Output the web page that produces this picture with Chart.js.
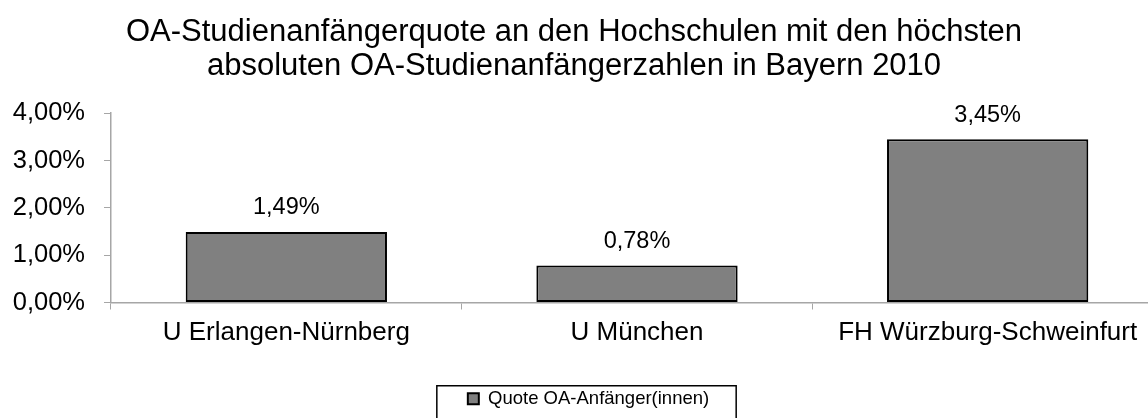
<!DOCTYPE html>
<html>
<head>
<meta charset="utf-8">
<script src="https://cdn.jsdelivr.net/npm/chart.js@4.4.1/dist/chart.umd.min.js"></script>
<style>
  html, body { margin: 0; padding: 0; background: #fff; overflow: hidden; width: 1148px; height: 418px; }
  /* the last category runs a little past the right edge in the original */
  #wrap { width: 1163px; height: 418px; }
</style>
</head>
<body>
<div id="wrap"><canvas id="quoteChart"></canvas></div>
<script>
const categories = ['U Erlangen-Nürnberg', 'U München', 'FH Würzburg-Schweinfurt'];
const quoteValues = [1.49, 0.78, 3.45];
const seriesName = 'Quote OA-Anfänger(innen)';
const yTicks = [0, 1, 2, 3, 4];
const titleLines = [
    'OA-Studienanfängerquote an den Hochschulen mit den höchsten',
    'absoluten OA-Studienanfängerzahlen in Bayern 2010'
];

const fontFamily = '"Liberation Sans", Arial, sans-serif';
const axisGray = '#a6a6a6';

function pct(v) {
    return v.toFixed(2).replace('.', ',') + '%';
}

// title centred on the visible page, legend nudged a bit right as in the original
const placeBlocks = {
    id: 'placeBlocks',
    afterLayout(chart) {
        const cut = chart.width - document.body.clientWidth;
        if (cut > 0) chart.titleBlock.right -= cut;
        chart.legend.left += 7;
        chart.legend.right += 7;
    }
};

// value labels above the bars
const barValues = {
    id: 'barValues',
    afterDatasetsDraw(chart) {
        const ctx = chart.ctx;
        const meta = chart.getDatasetMeta(0);
        ctx.save();
        ctx.font = '23.5px ' + fontFamily;
        ctx.fillStyle = '#000';
        ctx.textAlign = 'center';
        ctx.textBaseline = 'middle';
        meta.data.forEach((bar, i) => {
            ctx.fillText(pct(chart.data.datasets[0].data[i]), bar.x, bar.y - 24);
        });
        ctx.restore();
    }
};

// framed legend like the original
const legendFrame = {
    id: 'legendFrame',
    afterDraw(chart) {
        const box = chart.legend.legendHitBoxes[0];
        if (!box) return;
        const ctx = chart.ctx;
        ctx.save();
        ctx.strokeStyle = '#000';
        ctx.lineWidth = 1.5;
        ctx.strokeRect(box.left - 31, box.top + box.height / 2 - 13, box.width + 58, 60);
        ctx.restore();
    }
};

new Chart(document.getElementById('quoteChart'), {
    type: 'bar',
    data: {
        labels: categories,
        datasets: [{
            label: seriesName,
            data: quoteValues,
            backgroundColor: '#808080',
            borderColor: '#000',
            borderWidth: 2,
            borderSkipped: false,
            barPercentage: 0.574,
            categoryPercentage: 1
        }]
    },
    options: {
        responsive: true,
        maintainAspectRatio: false,
        animation: false,
        layout: { padding: 0 },
        plugins: {
            title: {
                display: true,
                text: titleLines,
                color: '#000',
                font: { family: fontFamily, size: 31, weight: 'normal', lineHeight: 1.1 },
                padding: { top: 15, bottom: 30 }
            },
            legend: {
                position: 'bottom',
                labels: {
                    color: '#000',
                    font: { family: fontFamily, size: 18.5 },
                    boxWidth: 11,
                    boxHeight: 11,
                    padding: 10
                }
            },
            tooltip: { enabled: false }
        },
        scales: {
            x: {
                afterFit(scale) { scale.height = 77; },
                grid: {
                    offset: true,
                    drawOnChartArea: false,
                    color: axisGray,
                    tickLength: 7
                },
                border: { color: axisGray, width: 1.5 },
                ticks: {
                    color: '#000',
                    font: { family: fontFamily, size: 26 },
                    padding: 8,
                    maxRotation: 0,
                    autoSkip: false
                }
            },
            y: {
                min: 0,
                max: 4,
                afterFit(scale) { scale.width = 111; },
                afterBuildTicks(scale) { scale.ticks = yTicks.map(v => ({ value: v })); },
                grid: {
                    drawOnChartArea: false,
                    color: axisGray,
                    tickLength: 7
                },
                border: { color: axisGray, width: 1.5 },
                ticks: {
                    color: '#000',
                    font: { family: fontFamily, size: 25.5 },
                    padding: 19,
                    callback: v => pct(v)
                }
            }
        }
    },
    plugins: [placeBlocks, barValues, legendFrame]
});
</script>
</body>
</html>
